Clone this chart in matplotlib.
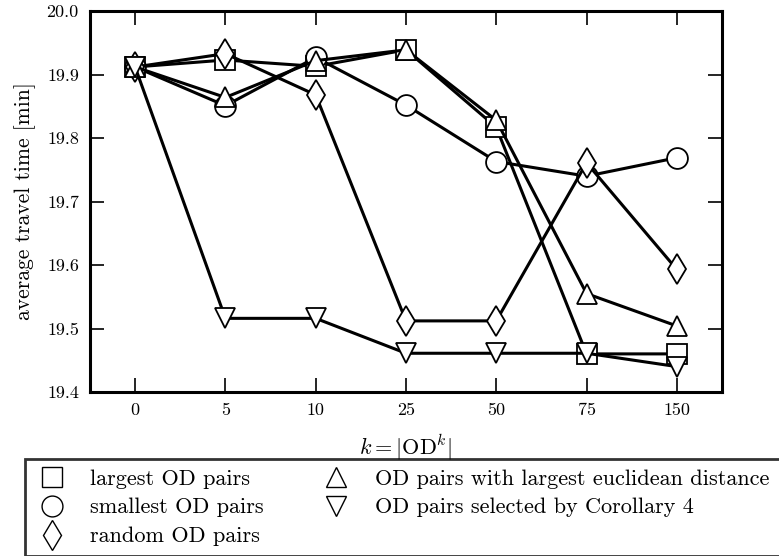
import matplotlib
matplotlib.use("Agg")
import matplotlib.pyplot as plt
from matplotlib.lines import Line2D

plt.rcParams['font.family'] = 'serif'
plt.rcParams['font.serif'] = ['cmr10', 'DejaVu Serif']
plt.rcParams['mathtext.fontset'] = 'cm'
plt.rcParams['axes.formatter.use_mathtext'] = True

k_labels = ['0', '5', '10', '25', '50', '75', '150']

y_largest = [19.912, 19.923, 19.913, 19.939, 19.817, 19.460, 19.460]
y_smallest = [19.912, 19.851, 19.927, 19.852, 19.763, 19.740, 19.769]
y_random = [19.912, 19.933, 19.868, 19.512, 19.512, 19.761, 19.593]
y_euclid = [19.912, 19.864, 19.922, 19.939, 19.828, 19.555, 19.504]
y_corollary = [19.912, 19.516, 19.516, 19.461, 19.461, 19.461, 19.440]

names = ['largest OD pairs', 'smallest OD pairs', 'random OD pairs',
         'OD pairs with largest euclidean distance',
         'OD pairs selected by Corollary 4']
series = [y_largest, y_smallest, y_random, y_euclid, y_corollary]
markers = ['s', 'o', 'd', '^', 'v']
sizes = [15, 15, 15, 15, 15]

fig = plt.figure(figsize=(7.79, 5.56), dpi=100)
ax = fig.add_axes([0.1155, 0.295, 0.8113, 0.685])

x = list(range(len(k_labels)))
handles = []
for ys, m, ms, name in zip(series, markers, sizes, names):
    ax.plot(x, ys, color='black', lw=2.2, marker=m, ms=ms,
            mfc='white', mec='black', mew=1.3)
    handles.append(Line2D([], [], ls='none', marker=m, ms=ms,
                          mfc='white', mec='black', mew=1.0, label=name))

ax.set_xlim(-0.5, 6.5)
ax.set_ylim(19.4, 20.0)
ax.set_xticks(x)
ax.set_xticklabels(k_labels)
ax.set_yticks([19.4, 19.5, 19.6, 19.7, 19.8, 19.9, 20.0])
ax.set_yticklabels(['19.4', '19.5', '19.6', '19.7', '19.8', '19.9', '20.0'])
ax.tick_params(direction='in', length=10, width=1.2, top=True, right=True,
               labelsize=13, pad=8)
for s in ax.spines.values():
    s.set_linewidth(2.2)

ax.set_xlabel(r'$k = |\mathrm{OD}^k|$', fontsize=16, labelpad=10)
ax.set_ylabel('average travel time [min]', fontsize=15.5, labelpad=8)

leg = fig.legend(handles=handles, ncol=2, loc='upper left',
                 bbox_to_anchor=(0.032, 0.1745), borderaxespad=0,
                 fontsize=16, frameon=True, fancybox=False,
                 borderpad=0.45, labelspacing=0.42, handletextpad=1.0,
                 columnspacing=2.5, handlelength=1.5)
leg.get_frame().set_edgecolor('black')
leg.get_frame().set_linewidth(2)

fig.savefig('out.png', dpi=100)
